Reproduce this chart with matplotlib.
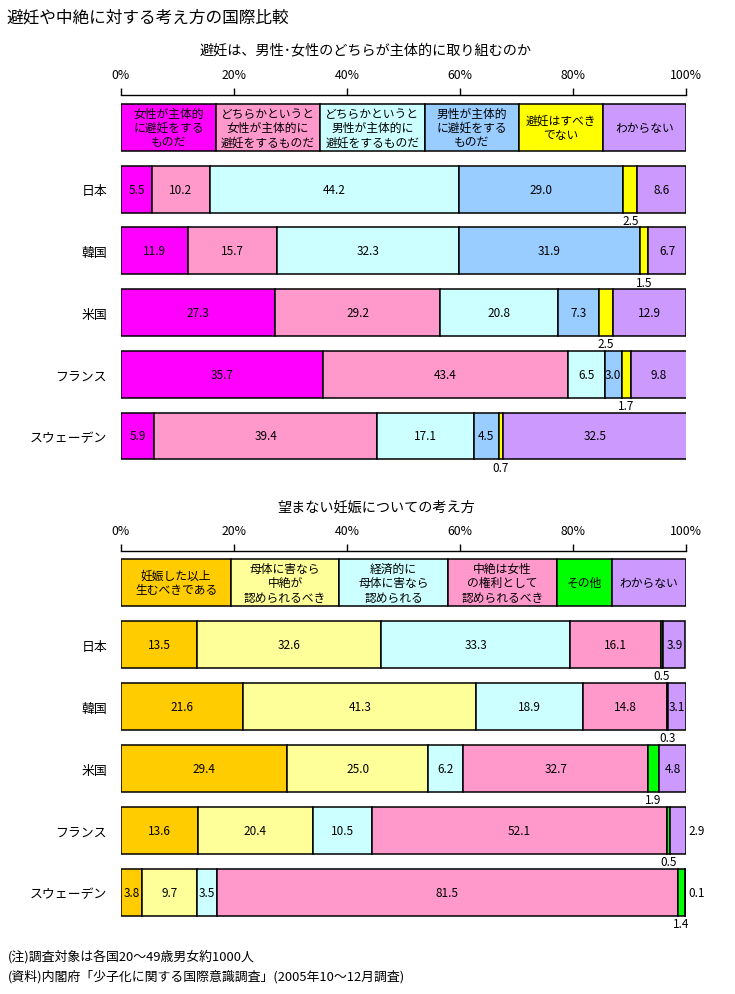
import numpy as np
import matplotlib.pyplot as plt

plt.rcParams['font.family'] = ['Noto Sans CJK JP', 'DejaVu Sans']

countries = ['日本', '韓国', '米国', 'フランス', 'スウェーデン']

# chart 1: 避妊は、男性・女性のどちらが主体的に取り組むのか
contra_labels = ['女性が主体的\nに避妊をする\nものだ',
                 'どちらかというと\n女性が主体的に\n避妊をするものだ',
                 'どちらかというと\n男性が主体的に\n避妊をするものだ',
                 '男性が主体的\nに避妊をする\nものだ',
                 '避妊はすべき\nでない',
                 'わからない']
contra_colors = ['#FF00FF', '#FF99CC', '#CCFFFF', '#99CCFF', '#FFFF00', '#CC99FF']
contra_jp = [5.5, 10.2, 44.2, 29.0, 2.5, 8.6]
contra_kr = [11.9, 15.7, 32.3, 31.9, 1.5, 6.7]
contra_us = [27.3, 29.2, 20.8, 7.3, 2.5, 12.9]
contra_fr = [35.7, 43.4, 6.5, 3.0, 1.7, 9.8]
contra_se = [5.9, 39.4, 17.1, 4.5, 0.7, 32.5]

# chart 2: 望まない妊娠についての考え方
preg_labels = ['妊娠した以上\n生むべきである',
               '母体に害なら\n中絶が\n認められるべき',
               '経済的に\n母体に害なら\n認められる',
               '中絶は女性\nの権利として\n認められるべき',
               'その他',
               'わからない']
preg_colors = ['#FFCC00', '#FFFF99', '#CCFFFF', '#FF99CC', '#00FF00', '#CC99FF']
preg_jp = [13.5, 32.6, 33.3, 16.1, 0.5, 3.9]
preg_kr = [21.6, 41.3, 18.9, 14.8, 0.3, 3.1]
preg_us = [29.4, 25.0, 6.2, 32.7, 1.9, 4.8]
preg_fr = [13.6, 20.4, 10.5, 52.1, 0.5, 2.9]
preg_se = [3.8, 9.7, 3.5, 81.5, 1.4, 0.1]

xticks = [0, 20, 40, 60, 80, 100]
xtick_labels = ['0%', '20%', '40%', '60%', '80%', '100%']

W, H = 735, 995
fig = plt.figure(figsize=(W / 100, H / 100), dpi=100)

BAR_H = 0.76
EDGE_LW = 1.1


def make_axes(top_px, row0_px, unit_px, bottom_px):
    # axes in "row" units: legend row 0, countries 1..5
    left, right = 121, 686
    ax = fig.add_axes([left / W, 1 - bottom_px / H, (right - left) / W, (bottom_px - top_px) / H])
    ax.set_xlim(0, 100)
    ax.set_ylim((bottom_px - row0_px) / unit_px, (top_px - row0_px) / unit_px)
    return ax


def draw_chart(ax, rows, colors, labels, legend_edges):
    # legend cells drawn as a bar row
    widths = np.diff(legend_edges)
    ax.barh(0, widths, left=legend_edges[:-1], height=BAR_H, color=colors,
            edgecolor='black', linewidth=EDGE_LW)
    for i, txt in enumerate(labels):
        ax.text(legend_edges[i] + widths[i] / 2, 0, txt, ha='center', va='center',
                fontsize=8.5, linespacing=1.15)

    for r, vals in enumerate(rows, start=1):
        vals = np.array(vals)
        lefts = np.concatenate([[0], np.cumsum(vals)[:-1]])
        ax.barh(r, vals, left=lefts, height=BAR_H, color=colors,
                edgecolor='black', linewidth=EDGE_LW)
        for j, v in enumerate(vals):
            cx = lefts[j] + v / 2
            if v >= 3:
                ax.text(cx, r, f'{v:.1f}', ha='center', va='center', fontsize=8.5)
            elif j == len(vals) - 1:
                ax.annotate(f'{v:.1f}', xy=(100, r), xytext=(2, 0), textcoords='offset points',
                            ha='left', va='center', fontsize=8.5)
            else:
                ax.annotate(f'{v:.1f}', xy=(cx, r + BAR_H / 2), xytext=(0, -1),
                            textcoords='offset points', ha='center', va='top', fontsize=8.5)

    ax.xaxis.tick_top()
    ax.set_xticks(xticks)
    ax.set_xticklabels(xtick_labels, fontsize=8.8)
    ax.tick_params(axis='x', direction='out', length=5, width=1, pad=5)
    ax.set_yticks(range(1, len(rows) + 1))
    ax.set_yticklabels(countries, fontsize=9.3)
    ax.tick_params(axis='y', length=0, pad=10)
    for side in ['bottom', 'left', 'right']:
        ax.spines[side].set_visible(False)
    ax.spines['top'].set_linewidth(1)


ax1 = make_axes(96, 128.5, 61.7, 470)
draw_chart(ax1, [contra_jp, contra_kr, contra_us, contra_fr, contra_se],
           contra_colors, contra_labels, [0, 16.8, 35.2, 53.8, 70.4, 85.3, 100])

ax2 = make_axes(552, 583.5, 62.0, 930)
draw_chart(ax2, [preg_jp, preg_kr, preg_us, preg_fr, preg_se],
           preg_colors, preg_labels, [0, 19.5, 38.6, 57.9, 77.2, 86.9, 100])

fig.text(6 / W, 1 - 18 / H, '避妊や中絶に対する考え方の国際比較', ha='left', va='center', fontsize=12)
fig.text(366 / W, 1 - 50 / H, '避妊は、男性･女性のどちらが主体的に取り組むのか',
         ha='center', va='center', fontsize=10.2)
fig.text(376 / W, 1 - 508 / H, '望まない妊娠についての考え方', ha='center', va='center', fontsize=10.2)
fig.text(8 / W, 1 - 957 / H, '(注)調査対象は各国20～49歳男女約1000人', ha='left', va='center', fontsize=9.3)
fig.text(8 / W, 1 - 977 / H, '(資料)内閣府「少子化に関する国際意識調査」(2005年10～12月調査)',
         ha='left', va='center', fontsize=9.3)

fig.savefig('out.png', dpi=100, facecolor='white')
